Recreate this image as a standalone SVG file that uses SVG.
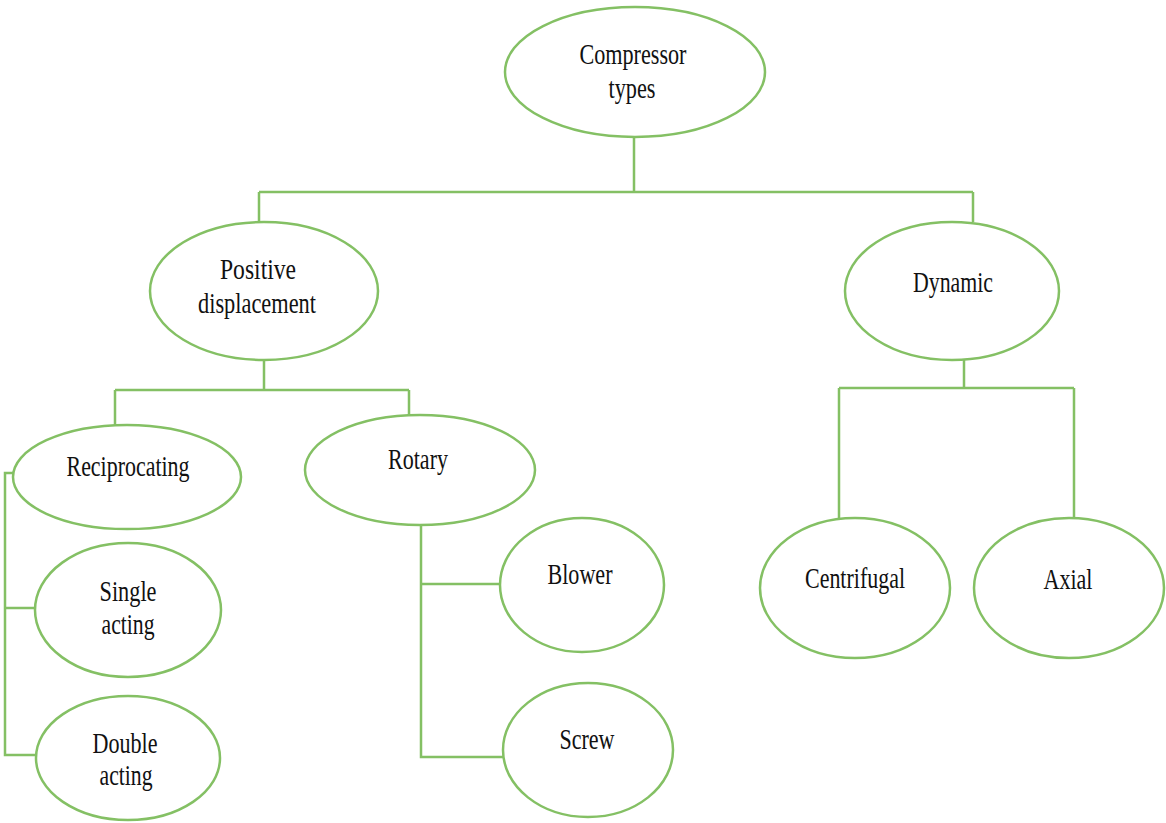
<svg xmlns="http://www.w3.org/2000/svg" width="1166" height="823" viewBox="0 0 1166 823">
<style>
.n{fill:#fff;stroke:#84c064;stroke-width:2.5}
.c{fill:none;stroke:#84c064;stroke-width:2.5}
text{font-family:"Liberation Serif","Times New Roman",serif;font-size:29px;fill:#111;text-anchor:middle}
</style>
<rect width="1166" height="823" fill="#fff"/>
<g id="connectors">
<path class="c" d="M634 137V192M259 192H973M259 192V222M973 192V222"/>
<path class="c" d="M264 360V390M115 390H409M115 390V425M409 390V415"/>
<path class="c" d="M13 473H5V755H37M5 608H35"/>
<path class="c" d="M421 525V757H503M421 584H500"/>
<path class="c" d="M964 360V388M839 388H1074M839 388V518M1074 388V518"/>
</g>
<g id="compressor"><ellipse class="n" cx="635" cy="72" rx="130" ry="65"/><text x="633" y="64" textLength="107" lengthAdjust="spacingAndGlyphs">Compressor</text><text x="632" y="98" textLength="47" lengthAdjust="spacingAndGlyphs">types</text></g>
<g id="positive"><ellipse class="n" cx="264" cy="291" rx="114" ry="69"/><text x="258" y="279" textLength="76" lengthAdjust="spacingAndGlyphs">Positive</text><text x="257" y="313" textLength="118" lengthAdjust="spacingAndGlyphs">displacement</text></g>
<g id="dynamic"><ellipse class="n" cx="952" cy="291" rx="107" ry="69"/><text x="953" y="292" textLength="80" lengthAdjust="spacingAndGlyphs">Dynamic</text></g>
<g id="reciprocating"><ellipse class="n" cx="127" cy="477" rx="114" ry="52"/><text x="128" y="476" textLength="123" lengthAdjust="spacingAndGlyphs">Reciprocating</text></g>
<g id="rotary"><ellipse class="n" cx="420" cy="470" rx="115" ry="55"/><text x="418" y="469" textLength="60" lengthAdjust="spacingAndGlyphs">Rotary</text></g>
<g id="single"><ellipse class="n" cx="128" cy="610" rx="93" ry="67"/><text x="128" y="601" textLength="57" lengthAdjust="spacingAndGlyphs">Single</text><text x="128" y="634" textLength="53" lengthAdjust="spacingAndGlyphs">acting</text></g>
<g id="double"><ellipse class="n" cx="128" cy="758" rx="92" ry="62"/><text x="125" y="753" textLength="65" lengthAdjust="spacingAndGlyphs">Double</text><text x="126" y="785" textLength="53" lengthAdjust="spacingAndGlyphs">acting</text></g>
<g id="blower"><ellipse class="n" cx="582" cy="585" rx="82" ry="67"/><text x="580" y="584" textLength="65" lengthAdjust="spacingAndGlyphs">Blower</text></g>
<g id="screw"><ellipse class="n" cx="588" cy="750" rx="85" ry="67"/><text x="587" y="749" textLength="55" lengthAdjust="spacingAndGlyphs">Screw</text></g>
<g id="centrifugal"><ellipse class="n" cx="855" cy="588" rx="95" ry="70"/><text x="855" y="588" textLength="100" lengthAdjust="spacingAndGlyphs">Centrifugal</text></g>
<g id="axial"><ellipse class="n" cx="1069" cy="588" rx="95" ry="70"/><text x="1068" y="589" textLength="49" lengthAdjust="spacingAndGlyphs">Axial</text></g>
</svg>
